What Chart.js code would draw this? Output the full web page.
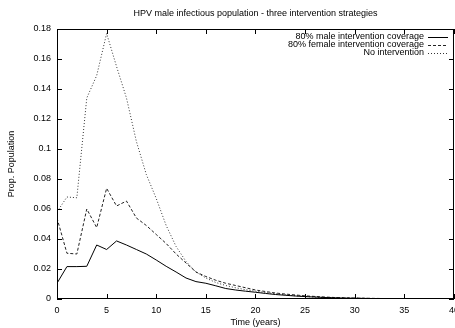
<!DOCTYPE html>
<html>
<head>
<meta charset="utf-8">
<script src="https://cdn.jsdelivr.net/npm/chart.js@4.4.1/dist/chart.umd.min.js"></script>
<style>
  html, body { margin: 0; padding: 0; background: #fff; overflow: hidden; }
  #wrap { width: 465px; height: 328px; }
</style>
</head>
<body>
<div id="wrap"><canvas id="grafico" width="465" height="328"></canvas></div>
<script>
// anos 0..40
const anos = Array.from({ length: 41 }, (_, i) => i);

const masculino = [0.0105, 0.0216, 0.0216, 0.0218, 0.036, 0.033, 0.0387, 0.036, 0.033, 0.030,
  0.026, 0.0218, 0.018, 0.014, 0.0116, 0.0105, 0.0088, 0.007, 0.006, 0.0052,
  0.0045, 0.0037, 0.003, 0.0025, 0.002, 0.0016, 0.0013, 0.001, 0.0008, 0.0006,
  0.0005, 0.0004, 0.0003, 0.0003, 0.0002, 0.0002, 0.0001, 0.0001, 0.0001, 0.0001, 0.0001];

const feminino = [0.054, 0.0305, 0.030, 0.060, 0.0476, 0.0738, 0.062, 0.0653, 0.054, 0.049,
  0.043, 0.037, 0.030, 0.024, 0.018, 0.015, 0.0125, 0.0105, 0.009, 0.0075,
  0.006, 0.005, 0.004, 0.0033, 0.0027, 0.0021, 0.0017, 0.0013, 0.001, 0.0008,
  0.0006, 0.0005, 0.0004, 0.0003, 0.0003, 0.0002, 0.0002, 0.0002, 0.0001, 0.0001, 0.0001];

const semIntervencao = [0.058, 0.068, 0.0675, 0.134, 0.149, 0.177, 0.155, 0.134, 0.105, 0.083,
  0.067, 0.049, 0.035, 0.025, 0.018, 0.014, 0.011, 0.009, 0.0075, 0.0062,
  0.0052, 0.0043, 0.0035, 0.0028, 0.0022, 0.0017, 0.0013, 0.001, 0.0008, 0.0006,
  0.0005, 0.0004, 0.0003, 0.0003, 0.0002, 0.0002, 0.0002, 0.0001, 0.0001, 0.0001, 0.0001];

const rotulos = ['80% male intervention coverage', '80% female intervention coverage', 'No intervention'];
const titulo = 'HPV male infectious population - three intervention strategies';
const fonte = 'Liberation Sans, Arial, sans-serif';

const pontos = arr => arr.map((v, i) => ({ x: anos[i], y: v }));

// borda estilo gnuplot, com marcas para dentro nos quatro lados
const bordaGnuplot = {
  id: 'bordaGnuplot',
  afterDatasetsDraw(c) {
    const { ctx, chartArea: a, scales } = c;
    ctx.save();
    ctx.strokeStyle = '#000';
    ctx.lineWidth = 1;
    ctx.beginPath();
    ctx.rect(a.left + 0.5, a.top + 0.5, a.right - a.left - 1, a.bottom - a.top - 1);
    scales.x.ticks.forEach(t => {
      const px = Math.round(scales.x.getPixelForValue(t.value)) + 0.5;
      ctx.moveTo(px, a.bottom); ctx.lineTo(px, a.bottom - 5);
      ctx.moveTo(px, a.top); ctx.lineTo(px, a.top + 5);
    });
    scales.y.ticks.forEach(t => {
      const py = Math.round(scales.y.getPixelForValue(t.value)) + 0.5;
      ctx.moveTo(a.left, py); ctx.lineTo(a.left + 5, py);
      ctx.moveTo(a.right, py); ctx.lineTo(a.right - 5, py);
    });
    ctx.stroke();

    // titulo centrado sobre a area do grafico
    ctx.fillStyle = '#000';
    ctx.font = '9px ' + fonte;
    ctx.textAlign = 'center';
    ctx.textBaseline = 'middle';
    ctx.fillText(titulo, (a.left + a.right) / 2, 14);

    // legenda
    ctx.textAlign = 'right';
    c.data.datasets.forEach((ds, i) => {
      const y = 37 + i * 8;
      ctx.fillText(ds.label, 424, y);
      ctx.beginPath();
      ctx.strokeStyle = ds.borderColor;
      ctx.setLineDash(ds.borderDash || []);
      ctx.moveTo(428, y + 0.5); ctx.lineTo(448, y + 0.5);
      ctx.stroke();
    });
    ctx.restore();
  }
};

new Chart(document.getElementById('grafico'), {
  type: 'line',
  data: {
    datasets: [
      { label: rotulos[0], data: pontos(masculino), borderColor: '#000', borderWidth: 1 },
      { label: rotulos[1], data: pontos(feminino), borderColor: '#222', borderWidth: 1, borderDash: [3, 2] },
      { label: rotulos[2], data: pontos(semIntervencao), borderColor: '#333', borderWidth: 1, borderDash: [1, 2] }
    ]
  },
  options: {
    responsive: false,
    animation: false,
    elements: { point: { radius: 0 }, line: { tension: 0 } },
    layout: { padding: { left: 0, right: 10, top: 29, bottom: 0 } },
    plugins: {
      legend: { display: false },
      tooltip: { enabled: false },
      title: { display: false }
    },
    scales: {
      x: {
        type: 'linear', min: 0, max: 40,
        grid: { display: false, drawTicks: false },
        border: { display: false },
        ticks: { stepSize: 5, color: '#000', padding: 6, maxRotation: 0, font: { family: fonte, size: 9 } },
        title: { display: true, text: 'Time (years)', color: '#000', padding: { top: 2, bottom: 0 }, font: { family: fonte, size: 9 } },
        afterFit: s => { s.height = 29; }
      },
      y: {
        min: 0, max: 0.18,
        grid: { display: false, drawTicks: false },
        border: { display: false },
        ticks: {
          stepSize: 0.02, color: '#000', padding: 6, font: { family: fonte, size: 9 },
          callback: v => String(Number(v.toFixed(2)))
        },
        title: { display: true, text: 'Prop. Population', color: '#000', padding: { top: 6, bottom: 0 }, font: { family: fonte, size: 9 } },
        afterFit: s => { s.width = 57; }
      }
    }
  },
  plugins: [bordaGnuplot]
});
</script>
</body>
</html>
